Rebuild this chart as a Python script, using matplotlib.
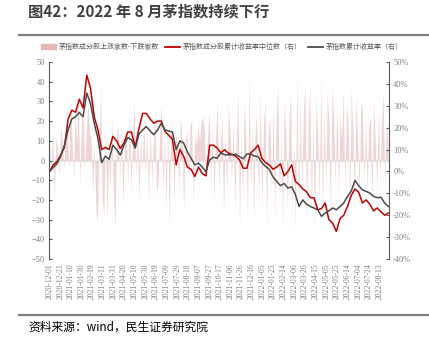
import matplotlib
matplotlib.use("Agg")
import matplotlib.pyplot as plt
import matplotlib.dates as mdates
from matplotlib.patches import Patch
from matplotlib.lines import Line2D
import pandas as pd

# 茅指数成分股上涨家数-下跌家数（左轴），每 3 天一个点
bar_dates = pd.date_range("2020-12-01", periods=213, freq="3D")
bar_values = [
    8, -5, 15, -21, 12, 6, -8, 18, 10, -4,
    14, 22, -6, 30, 12, -10, 25, 8, 32, -12,
    20, 28, -5, 15, 30, 14, 12, -18, 8, -25,
    -31, 10, 38, -20, -28, 15, -30, 5, -15, 22,
    -18, -34, 12, 18, -10, 20, -22, 8, 15, -12,
    25, -15, 10, 30, -8, 18, -20, 12, -5, 22,
    -10, 15, -22, 20, -12, 8, 25, -18, -10, 15,
    28, -15, 12, -24, 20, -34, 18, 10, -20, 14,
    8, -16, 22, 12, -25, 10, 15, -12, 18, 20,
    -22, 14, 8, 18, 10, 20, 22, 15, -10, 12,
    25, -12, 18, -20, 10, 30, -15, 8, 22, -28,
    12, -18, 28, 15, -10, 20, -25, 10, 35, -34,
    15, -22, 30, 10, -28, 42, -15, 20, -30, 25,
    12, -20, 35, -25, 18, 30, -32, 15, 22, -18,
    28, -30, 20, 38, -20, 12, -35, 30, 15, -25,
    20, 35, -28, 10, -36, 44, -22, 30, -15, 25,
    38, -30, 15, 40, -25, 20, -36, 32, 12, -20,
    42, -28, 25, -15, 35, 18, -30, 38, 20, -12,
    30, -18, 25, 10, 35, -15, 28, 20, -22, 36,
    15, -25, 32, 12, -18, 30, 25, -12, 20, -15,
    18, 22, -20, 30, 10, -15, 25, -10, 18, 35,
    -12, 20, 8,
]

# 累计收益率（右轴，%），每周一个点
line_dates = pd.date_range("2020-12-01", periods=92, freq="7D")
median_ret = [
    0, 3, 4.5, 7.5, 11, 24, 28, 27, 33, 29,
    44, 38, 25, 19, 10, 11, 10, 16, 14, 10.5,
    13, 18, 18, 11, 19.5, 26.5, 26.5, 24, 22, 23,
    23, 18.3, 16.5, 14.8, 3, 10, 7, 2, 1, -2.3,
    2, -1, -2, 12, 12, 10.7, 8.5, 9.9, 8.4, 7.8,
    6.9, 5.3, 1.5, 1.5, 8.5, 10, 12, 6, 4, 3,
    1, 2, 3.5, -2, 0, 3, -4.5, -6, -8, -9.3,
    -12, -12, -17.5, -17, -14.4, -22, -23.6, -27.4, -21.5, -20,
    -16, -11, -8, -9.5, -14.4, -13, -15, -18, -16.7, -18.5,
    -20, -19,
]
index_ret = [
    0, 1.8, 3.5, 7, 12, 19, 24, 25, 27, 25,
    35.8, 31, 22, 15, 4, 7, 5.5, 12, 10, 7.5,
    12, 15.5, 14.5, 10.7, 17, 19, 20.5, 18.5, 16.8, 19,
    22, 19, 18.5, 18, 10, 14, 13, 9, 6, 3,
    3.8, 2, 0, 5.3, 6.5, 6, 8.5, 7.6, 7.6, 7.6,
    7.9, 6.8, 5.8, 8, 8, 7, 6.8, 4, 2.3, 1,
    -2.5, -4.6, -6.5, -5.5, -7.6, -7, -10.5, -16, -13, -15,
    -16, -16.7, -17.5, -20.5, -19, -18, -16.7, -17.5, -16, -14.4,
    -11.4, -9, -4.1, -6.5, -8.4, -9.1, -9.9, -11.4, -12, -11.8,
    -14.5, -16,
]

tick_dates = pd.date_range("2020-12-01", "2022-08-13", freq="20D")

legend_labels = ["茅指数成分股上涨家数-下跌家数",
                 "茅指数成分股累计收益率中位数（右）",
                 "茅指数累计收益率（右）"]

plt.rcParams["font.family"] = ["Noto Sans CJK SC", "DejaVu Sans"]

bar_color = "#e6b9b8"
red = "#c00000"
dark = "#4a4a4a"
tick_gray = "#7f7f7f"

fig = plt.figure(figsize=(4.29, 3.49), dpi=100)
W, H = 429, 349

fig.text(28 / W, 1 - 11 / H, "图42：2022 年 8 月茅指数持续下行", fontsize=11,
         fontweight="bold", color="#404040", va="center", ha="left")
fig.add_artist(Line2D([19 / W, 1], [1 - 34.5 / H] * 2, color="#7f7f7f", lw=1.6))
fig.add_artist(Line2D([19 / W, 1], [1 - 315 / H] * 2, color="#7f7f7f", lw=1.6))
fig.text(28 / W, 1 - 327 / H, "资料来源：wind，民生证券研究院", fontsize=8.5,
         color="#000000", va="center", ha="left")

ax = fig.add_axes([49 / W, 1 - 259 / H, 340 / W, 197 / H])
# 上涨-下跌家数画成贴着零轴的面积
ax.fill_between(bar_dates, bar_values, 0, color=bar_color, alpha=0.6, linewidth=0)
ax.axhline(0, color="#e6dcdc", lw=1.2, zorder=1)
ax.set_ylim(-50, 50)
ax.set_yticks(range(-50, 51, 10))
ax.set_xlim(pd.Timestamp("2020-11-30"), pd.Timestamp("2022-08-31"))

ax2 = ax.twinx()
ax2.plot(line_dates, median_ret, color=red, lw=1.1)
ax2.plot(line_dates, index_ret, color=dark, lw=1.1)
ax2.set_ylim(-40, 50)
ax2.set_yticks(range(-40, 51, 10))
ax2.set_yticklabels([f"{v}%" for v in range(-40, 51, 10)])

ax.set_xticks(tick_dates)
ax.xaxis.set_major_formatter(mdates.DateFormatter("%Y-%m-%d"))
for lbl in ax.get_xticklabels():
    lbl.set_rotation(90)

for a in (ax, ax2):
    for side in ("top", "bottom"):
        a.spines[side].set_visible(False)
    a.spines["left"].set_color("#595959")
    a.spines["right"].set_color("#595959")
    a.tick_params(axis="y", direction="in", length=2.5, width=0.8, color="#595959",
                  labelsize=6, labelcolor=tick_gray, pad=3)
    for lbl in a.get_yticklabels():
        lbl.set_family("Liberation Serif")
ax.spines["right"].set_visible(False)
ax2.spines["left"].set_visible(False)
ax.tick_params(axis="x", length=0, labelsize=5.5, labelcolor=tick_gray, pad=3)
for lbl in ax.get_xticklabels():
    lbl.set_family("Liberation Serif")

handles = [Patch(color=bar_color),
           Line2D([], [], color=red, lw=1.3),
           Line2D([], [], color=dark, lw=1.3)]
fig.legend(handles, legend_labels, loc="center", ncol=3,
           bbox_to_anchor=(222 / W, 1 - 47 / H), frameon=False, fontsize=5,
           labelcolor="#595959", handlelength=2.2, handleheight=0.6,
           columnspacing=0.8, handletextpad=0.4)

fig.savefig("out.png", dpi=100)
